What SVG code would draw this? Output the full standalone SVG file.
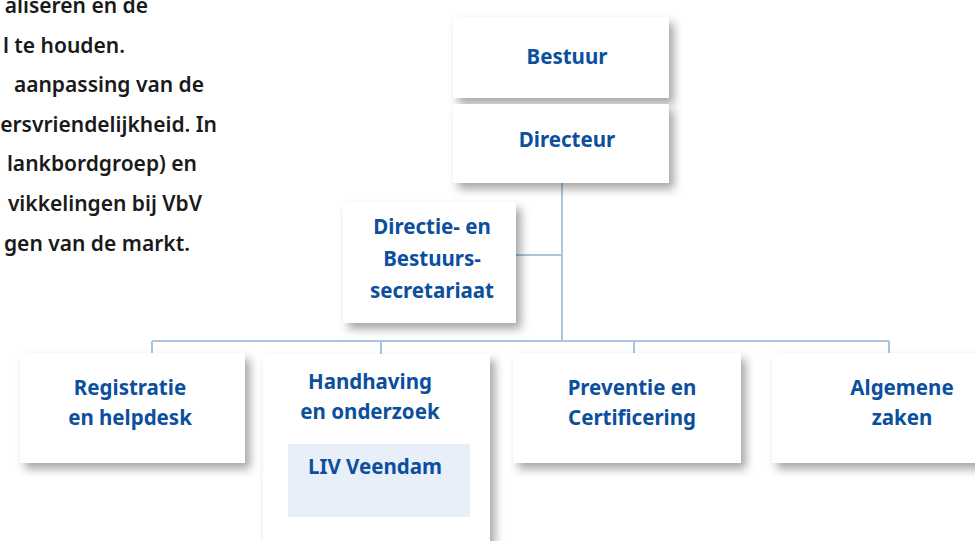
<svg xmlns="http://www.w3.org/2000/svg" width="975" height="541" viewBox="0 0 975 541">
<defs>
<filter id="sh" x="-20%" y="-20%" width="150%" height="160%">
<feDropShadow dx="5" dy="6" stdDeviation="5" flood-color="#000" flood-opacity="0.35"/>
</filter>
<style>
.box{fill:#fff;filter:url(#sh)}
.lbl{font-family:"Noto Sans","Open Sans",sans-serif;font-weight:700;font-size:20.5px;fill:#0b4f9e;text-anchor:middle}
.body{font-family:"Noto Sans","Open Sans",sans-serif;font-weight:600;font-size:21px;fill:#1a1a1a;text-anchor:end}
.con{stroke:#a9c4e0;stroke-width:2;fill:none}
</style>
</defs>
<rect width="975" height="541" fill="#fff"/>
<g id="bodytext">
<text class="body" x="148" y="13">aliseren en de</text>
<text class="body" x="125" y="53">l te houden.</text>
<text class="body" x="204" y="92">aanpassing van de</text>
<text class="body" x="217" y="132">ersvriendelijkheid. In</text>
<text class="body" x="197" y="171">lankbordgroep) en</text>
<text class="body" x="202" y="211">vikkelingen bij VbV</text>
<text class="body" x="190" y="251">gen van de markt.</text>
</g>
<g id="connectors">
<path class="con" d="M562 183V341M516 255H562M152 341H889M152 341V363M381 341V363M634 341V363M889 341V363"/>
</g>
<g id="bestuur"><rect class="box" x="453" y="17" width="216" height="81"/><text class="lbl" x="567" y="64">Bestuur</text></g>
<g id="directeur"><rect class="box" x="453" y="104" width="216" height="79"/><text class="lbl" x="567" y="147">Directeur</text></g>
<g id="secretariaat"><rect class="box" x="343" y="202" width="173" height="121"/><text class="lbl" x="432" y="234">Directie- en</text><text class="lbl" x="432" y="266">Bestuurs-</text><text class="lbl" x="432" y="298">secretariaat</text></g>
<g id="registratie"><rect class="box" x="20" y="353" width="225" height="110"/><text class="lbl" x="130" y="395">Registratie</text><text class="lbl" x="130" y="425">en helpdesk</text></g>
<g id="handhaving"><rect class="box" x="263" y="354" width="227" height="200"/><text class="lbl" x="370" y="389">Handhaving</text><text class="lbl" x="370" y="419">en onderzoek</text>
<g id="liv"><rect x="288" y="444" width="182" height="73" fill="#e8eff8"/><text class="lbl" x="375" y="474">LIV Veendam</text></g></g>
<g id="preventie"><rect class="box" x="513" y="353" width="228" height="110"/><text class="lbl" x="632" y="395">Preventie en</text><text class="lbl" x="632" y="425">Certificering</text></g>
<g id="algemene"><rect class="box" x="772" y="353" width="230" height="110"/><text class="lbl" x="902" y="395">Algemene</text><text class="lbl" x="902" y="425">zaken</text></g>
</svg>
